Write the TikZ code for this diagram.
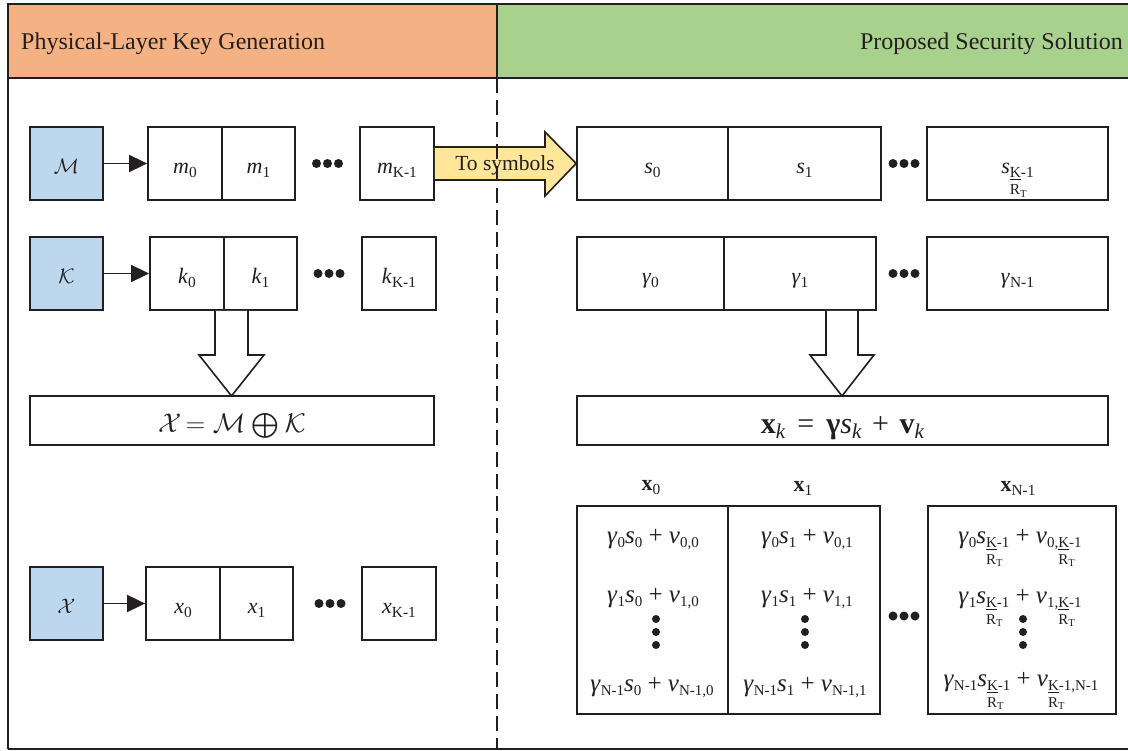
\RequirePackage{fix-cm}
\documentclass[tikz,border=0pt]{standalone}
\usepackage{amsmath}
\usepackage{fontspec}
\setmainfont{Liberation Serif}
\usetikzlibrary{arrows.meta}

\definecolor{ink}{HTML}{231F20}
\definecolor{hdrL}{HTML}{F4B183}
\definecolor{hdrR}{HTML}{A9D18E}
\definecolor{srcblue}{HTML}{BDD7EE}
\definecolor{arrowyel}{HTML}{FFE699}

\makeatletter
% lowered, reduced-size subscript (optional argument: size ratio)
\newcommand\sbs[2][0.7]{\raisebox{-0.18em}{\fontsize{\the\dimexpr#1\dimexpr\f@size pt\relax\relax}{0pt}\selectfont #2}}
\makeatother
% italic symbol with a roman subscript
\newcommand\sy[2]{\textit{#1}\sbs{#2}}
\newcommand\sm[2]{\textit{#1}\sbs[0.6]{#2}}
% K over R_T: R_T hangs under the K without taking width
\newcommand\KR{\vtop{\baselineskip=1.1em\lineskiplimit=-20pt\hbox{\underline{K}}\hbox to 0pt{R\sbs{T}\hss}}}

\tikzset{
  frame/.style={draw=ink, line width=1.8pt},
  cell/.style={draw=ink, line width=1.8pt, fill=white, inner sep=0pt,
    minimum height=73pt, text height=20pt, text depth=0pt,
    font=\fontsize{22}{26}\selectfont, text=ink},
  srcbox/.style={cell, fill=srcblue, minimum width=73pt,
    font=\fontsize{21}{25}\selectfont},
  eqbox/.style={cell, minimum height=49pt, text height=24pt},
  colbox/.style={draw=ink, line width=1.8pt, fill=white, minimum height=208pt, inner sep=0pt},
  entry/.style={anchor=base, inner sep=0pt, font=\fontsize{25}{30}\selectfont, text=ink},
  colhead/.style={inner sep=0pt, font=\fontsize{22}{26}\selectfont, text=ink},
  link/.style={draw=ink, line width=1.8pt, -{Triangle[length=18pt,width=17pt]}},
  hollow/.style={draw=ink, line width=1.6pt, fill=white, line join=miter},
  hdr/.style={inner sep=0pt, font=\fontsize{24}{28}\selectfont, text=ink},
  dot/.style={fill=ink}
}

\begin{document}
\begin{tikzpicture}[x=1pt,y=-1pt]
\useasboundingbox (0,0) rectangle (1128,751);

% header band
\fill[hdrL] (8,4) rectangle (497,78);
\fill[hdrR] (497,4) rectangle (1128,78);
\node[hdr, anchor=west] (hleft) at (21,44) {Physical-Layer Key Generation};
\node[hdr, anchor=east] (hright) at (1123,44) {Proposed Security Solution};
\draw[frame] (8,749) -- (8,4) -- (1128,4);
\draw[frame] (8,78) -- (1128,78);
\draw[frame] (8,749) -- (1128,749);
\draw[frame] (497,4) -- (497,78);

% ---------- left side ----------
\node[srcbox] (M) at (66.5,163.5) {$\mathcal{M}$};
\node[cell, minimum width=74pt] (m0) at (185,163.5) {\sy{m}{0}};
\node[cell, minimum width=73pt] (m1) at (258.5,163.5) {\sy{m}{1}};
\node[cell, minimum width=74pt] (mK) at (397,163.5) {\sy{m}{K-1}};
\draw[link] (M) -- (m0);

\node[srcbox] (K) at (66.5,273.5) {$\mathcal{K}$};
\node[cell, minimum width=74pt] (k0) at (187,273.5) {\sy{k}{0}};
\node[cell, minimum width=73pt] (k1) at (260.5,273.5) {\sy{k}{1}};
\node[cell, minimum width=74pt] (kK) at (399,273.5) {\sy{k}{K-1}};
\draw[link] (K) -- (k0);

\node[eqbox, minimum width=404pt, font=\fontsize{27}{32}\selectfont] (eqL) at (232,420.5)
  {$\mathcal{X}\mkern-2mu=\mathcal{M}\mathbin{\bigoplus}\mathcal{K}$};

\node[srcbox] (X) at (66.5,603.5) {$\mathcal{X}$};
\node[cell, minimum width=74pt] (x0) at (183,603.5) {\sy{x}{0}};
\node[cell, minimum width=73pt] (x1) at (256.5,603.5) {\sy{x}{1}};
\node[cell, minimum width=74pt] (xK) at (399,603.5) {\sy{x}{K-1}};
\draw[link] (X) -- (x0);

\foreach \cx/\cy in {327.5/163.5, 329/273.5, 330/603.5}
  \foreach \d in {-11,0,11}
    \fill[dot] (\cx+\d,\cy) circle (4.5pt);

% XOR of message and key
\draw[hollow] (215,311) -- (215,355) -- (199,355) -- (231.5,396) -- (264,355) -- (248,355) -- (248,311);

% ---------- right side ----------
\node[cell, minimum width=151pt] (s0) at (652.5,163.5) {\sy{s}{0}};
\node[cell, minimum width=153pt] (s1) at (804.5,163.5) {\sy{s}{1}};
\node[cell, minimum width=181pt] (sK) at (1017.5,163.5) {\textit{s}\sbs{\KR-1}};

\node[cell, minimum width=147pt] (g0) at (650.5,273.5) {\sy{γ}{0}};
\node[cell, minimum width=152pt] (g1) at (800,273.5) {\sy{γ}{1}};
\node[cell, minimum width=181pt] (gN) at (1017.5,273.5) {\sy{γ}{N-1}};

\foreach \cy in {163.5, 273.5, 616}
  \foreach \d in {-11,0,11}
    \fill[dot] (904+\d,\cy) circle (4.5pt);

\draw[hollow] (826,311) -- (826,355) -- (810,355) -- (842,396) -- (874,355) -- (858,355) -- (858,311);

\node[eqbox, minimum width=531pt, text height=26pt, font=\fontsize{30}{36}\selectfont] (eqR) at (842.5,420.5)
  {\textbf{x}\sbs{\textit{k}}\hspace{0.4em}=\hspace{0.4em}\textbf{γ}\textit{s}\sbs{\textit{k}}\hspace{0.35em}+\hspace{0.35em}\textbf{v}\sbs{\textit{k}}};

% received columns
\node[colhead] (h0) at (651,488) {\textbf{x}\sbs{0}};
\node[colhead] (h1) at (803,488) {\textbf{x}\sbs{1}};
\node[colhead] (hN) at (1018,488) {\textbf{x}\sbs{N-1}};

\node[colbox, minimum width=151pt] (c0) at (652.5,610) {};
\node[colbox, minimum width=152pt] (c1) at (804,610) {};
\node[colbox, minimum width=188pt] (cN) at (1022,610) {};

\node[entry] (c0r1) at (653,543) {\sm{γ}{0}\sm{s}{0} + \sm{v}{0,0}};
\node[entry] (c0r2) at (653,602) {\sm{γ}{1}\sm{s}{0} + \sm{v}{1,0}};
\node[entry] (c0r3) at (652,691) {\sm{γ}{N-1}\sm{s}{0} + \sm{v}{N-1,0}};

\node[entry] (c1r1) at (807,543) {\sm{γ}{0}\sm{s}{1} + \sm{v}{0,1}};
\node[entry] (c1r2) at (807,602) {\sm{γ}{1}\sm{s}{1} + \sm{v}{1,1}};
\node[entry] (c1r3) at (805,691) {\sm{γ}{N-1}\sm{s}{1} + \sm{v}{N-1,1}};

\node[entry] (cNr1) at (1020,543) {\sm{γ}{0}\textit{s}\sbs[0.6]{\KR-1} + \textit{v}\sbs[0.6]{0,\KR-1}};
\node[entry] (cNr2) at (1020,603) {\sm{γ}{1}\textit{s}\sbs[0.6]{\KR-1} + \textit{v}\sbs[0.6]{1,\KR-1}};
\node[entry] (cNr3) at (1021,686) {\sm{γ}{N-1}\textit{s}\sbs[0.6]{\KR-1} + \textit{v}\sbs[0.6]{\KR-1,N-1}};

\foreach \cx in {656, 805, 1023}
  \foreach \cy in {619, 632, 645}
    \fill[dot] (\cx,\cy) circle (4pt);

% message bits mapped to symbols
\draw[hollow, fill=arrowyel] (mK.east |- 0,147) -- (545,147) -- (545,132) -- (s0.west) -- (545,196) -- (545,180) -- (mK.east |- 0,180);
\node[inner sep=0pt, font=\fontsize{21.5}{26}\selectfont, text=ink] (tosym) at (505,165) {To symbols};

% dividing line between the two halves
\draw[frame, dash pattern=on 15pt off 7pt] (497,78) -- (497,749);
\end{tikzpicture}
\end{document}
